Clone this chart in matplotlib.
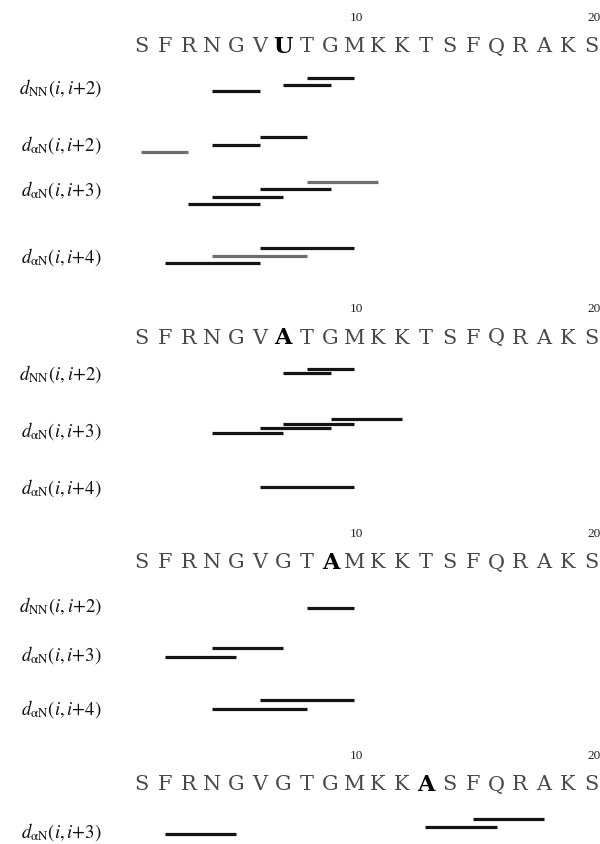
"""NOE connectivity diagram for four peptide variants."""
import matplotlib
matplotlib.use('Agg')
import matplotlib.pyplot as plt

plt.rcParams['mathtext.fontset'] = 'stix'

# sequences and the substituted residue (1-based) drawn in bold
sequences = [
    "SFRNGVUTGMKKTSFQRAKS",
    "SFRNGVATGMKKTSFQRAKS",
    "SFRNGVGTAMKKTSFQRAKS",
    "SFRNGVGTGMKKASFQRAKS",
]
mutated = [7, 7, 9, 13]
tick_residues = [10, 20]

# NOE types: label, span k for (i, i+k)
noe_types = {
    'NN2': (r'$d_{\mathrm{NN}}(i,i{+}2)$', 2),
    'aN2': (r'$d_{\mathrm{\alpha N}}(i,i{+}2)$', 2),
    'aN3': (r'$d_{\mathrm{\alpha N}}(i,i{+}3)$', 3),
    'aN4': (r'$d_{\mathrm{\alpha N}}(i,i{+}4)$', 4),
}

# start residue i of each observed NOE, per panel / row
p1_rows = [('NN2', [4, 7, 8]), ('aN2', [1, 4, 6]), ('aN3', [3, 4, 6, 8]), ('aN4', [2, 4, 6])]
p2_rows = [('NN2', [7, 8]), ('aN3', [4, 6, 7, 9]), ('aN4', [6])]
p3_rows = [('NN2', [8]), ('aN3', [2, 4]), ('aN4', [4, 6])]
p4_rows = [('aN3', [2, 13, 15])]
panels_rows = [p1_rows, p2_rows, p3_rows, p4_rows]

# weaker (grey) NOEs: (panel, row type, start)
grey_noes = [(0, 'aN2', 1), (0, 'aN3', 8), (0, 'aN4', 4)]

# layout (pixel rows from the top)
seq_y = [47, 338, 563, 785]
row_layout = [
    [(88, 91, 6.5), (145, 152, 7.5), (190, 204, 7.3), (257, 263, 7.5)],
    [(374, 373, 4.0), (431, 433, 4.7), (488, 487, 0)],
    [(606, 608, 0), (655, 657, 9.0), (709, 709, 9.0)],
    [(832, 834, 7.5)],
]

W, H = 600, 844
X0, DX = 141, 23.7   # pixel of residue 1, pixels per residue

fig = plt.figure(figsize=(W / 100, H / 100), dpi=100, facecolor='white')
ax = fig.add_axes([0, 0, 1, 1])
ax.set_xlim(1 - X0 / DX, 1 + (W - X0) / DX)
ax.set_ylim(H, 0)
ax.axis('off')

label_x = 1 + (102 - X0) / DX

for p, seq in enumerate(sequences):
    y = seq_y[p]
    for i, ch in enumerate(seq, start=1):
        bold = (i == mutated[p])
        ax.text(i, y, ch, ha='center', va='center', family='DejaVu Serif',
                fontsize=16 if bold else 15, fontweight='bold' if bold else 'normal',
                color='black' if bold else '#4a4a4a')
    for r in tick_residues:
        ax.text(r + 0.1, y - 29, str(r), ha='center', va='center',
                family='Liberation Serif', fontsize=9.5, color='#222222')

    for (key, starts), (ly, base, step) in zip(panels_rows[p], row_layout[p]):
        label, k = noe_types[key]
        ax.text(label_x, ly, label, ha='right', va='center', fontsize=13.5, color='#111111')
        for rank, s in enumerate(sorted(starts)):
            c = '#6e6e6e' if (p, key, s) in grey_noes else '#141414'
            yy = base - rank * step
            ax.plot([s, s + k], [yy, yy], color=c, lw=2.3, solid_capstyle='butt')

fig.savefig('out.png', dpi=100, facecolor='white')
